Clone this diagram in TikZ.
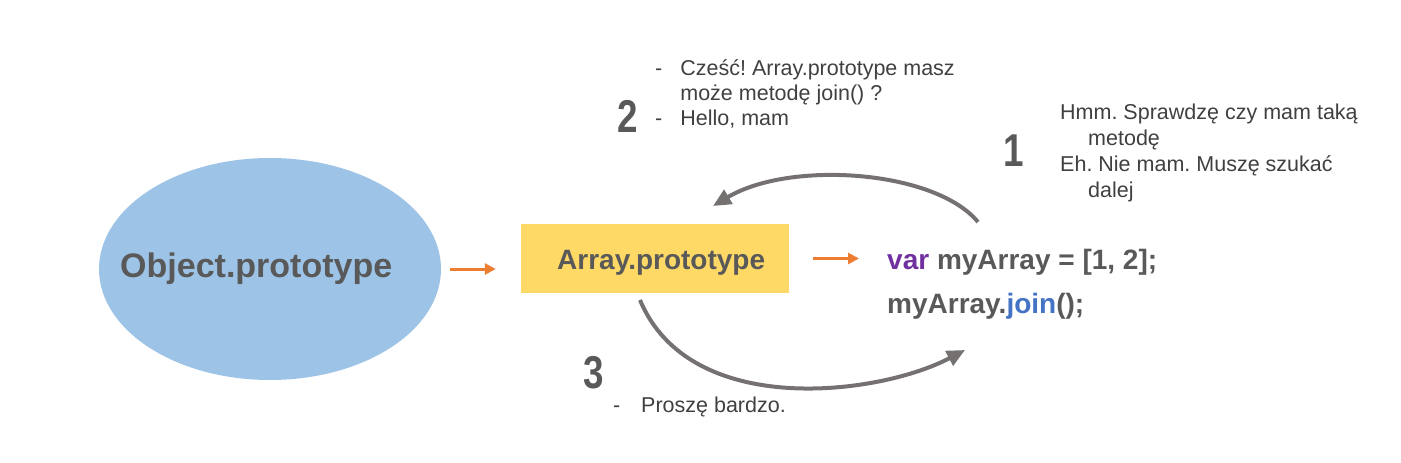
\documentclass[tikz,border=0pt]{standalone}
\usepackage{fontspec}
\setmainfont{Liberation Sans}
\usetikzlibrary{arrows.meta,positioning,shapes.geometric}
\definecolor{protoblue}{HTML}{9DC3E6}
\definecolor{protoyellow}{HTML}{FFD966}
\definecolor{linkorange}{HTML}{ED7D31}
\definecolor{lookgray}{HTML}{767171}
\definecolor{labelgray}{HTML}{595959}
\definecolor{notegray}{HTML}{404040}
\definecolor{kwpurple}{HTML}{7030A0}
\definecolor{fnblue}{HTML}{4472C4}
\frenchspacing

\begin{document}
\begin{tikzpicture}[
  x=1pt, y=-1pt,
  proto/.style={font=\fontsize{28}{44}\selectfont\bfseries, text=labelgray, inner sep=0pt, anchor=base west},
  note/.style={font=\fontsize{21.5}{25}\selectfont, text=notegray, inner sep=0pt, anchor=base west},
  num/.style={font=\fontsize{46}{46}\selectfont\bfseries, text=labelgray, inner sep=0pt, anchor=base west},
  link/.style={-{Triangle[length=11pt,width=11pt]}, line width=3pt, linkorange},
  lookup/.style={-{Triangle[length=18pt,width=16pt]}, line width=4pt, lookgray}
]
\useasboundingbox (0,0) rectangle (1401,463);

\node[ellipse, fill=protoblue, minimum width=342pt, minimum height=222pt, inner sep=0pt] (objproto) at (270,269) {};
\node[proto, font=\fontsize{34}{40}\selectfont\bfseries] (objtext) at (120,277) {Object.prototype};
\node[fill=protoyellow, minimum width=268pt, minimum height=69pt, inner sep=0pt] (arrproto) at (655,258.5) {};
\node[proto] (arrtext) at (557,269) {Array.prototype};
\node[proto] (code) at (887,269) {\begin{tabular}[t]{@{}l@{}}\textcolor{kwpurple}{var} myArray = [1, 2];\\myArray.\textcolor{fnblue}{join}();\end{tabular}};

\node[num] (step1) at (1003,166) {\scalebox{0.8}[1]{1}};
\node[num] (step2) at (617,132) {\scalebox{0.8}[1]{2}};
\node[num] (step3) at (583,388) {\scalebox{0.8}[1]{3}};

\node[note] (ask) at (655,75) {\begin{tabular}[t]{@{}l@{\hspace{18pt}}l@{}}-&Cześć! Array.prototype masz\\&może metodę join() ?\\-&Hello, mam\end{tabular}};
\node[note, font=\fontsize{21.5}{26}\selectfont] (search) at (1060,119) {\begin{tabular}[t]{@{}l@{}}Hmm. Sprawdzę czy mam taką\\\hspace*{28pt}metodę\\Eh. Nie mam. Muszę szukać\\\hspace*{28pt}dalej\end{tabular}};
\node[note] (reply) at (613,412) {\makebox[28pt][l]{-}Proszę bardzo.};

\coordinate (askfrom) at (978,222);
\coordinate (askto) at (713,206);
\coordinate (replyfrom) at (640,300);
\coordinate (replyto) at (965,350);

\draw[link, shorten <=9pt, shorten >=25pt] (objproto.east) -- (arrproto.west |- objproto.east);
\draw[link, shorten <=24pt, shorten >=28pt] (arrproto.east) -- (arrproto.east -| code.west);
\draw[lookup] (askfrom) .. controls (935,170) and (790,160) .. (askto);
\draw[lookup] (replyfrom) .. controls (690,420) and (880,395) .. (replyto);
\end{tikzpicture}
\end{document}
